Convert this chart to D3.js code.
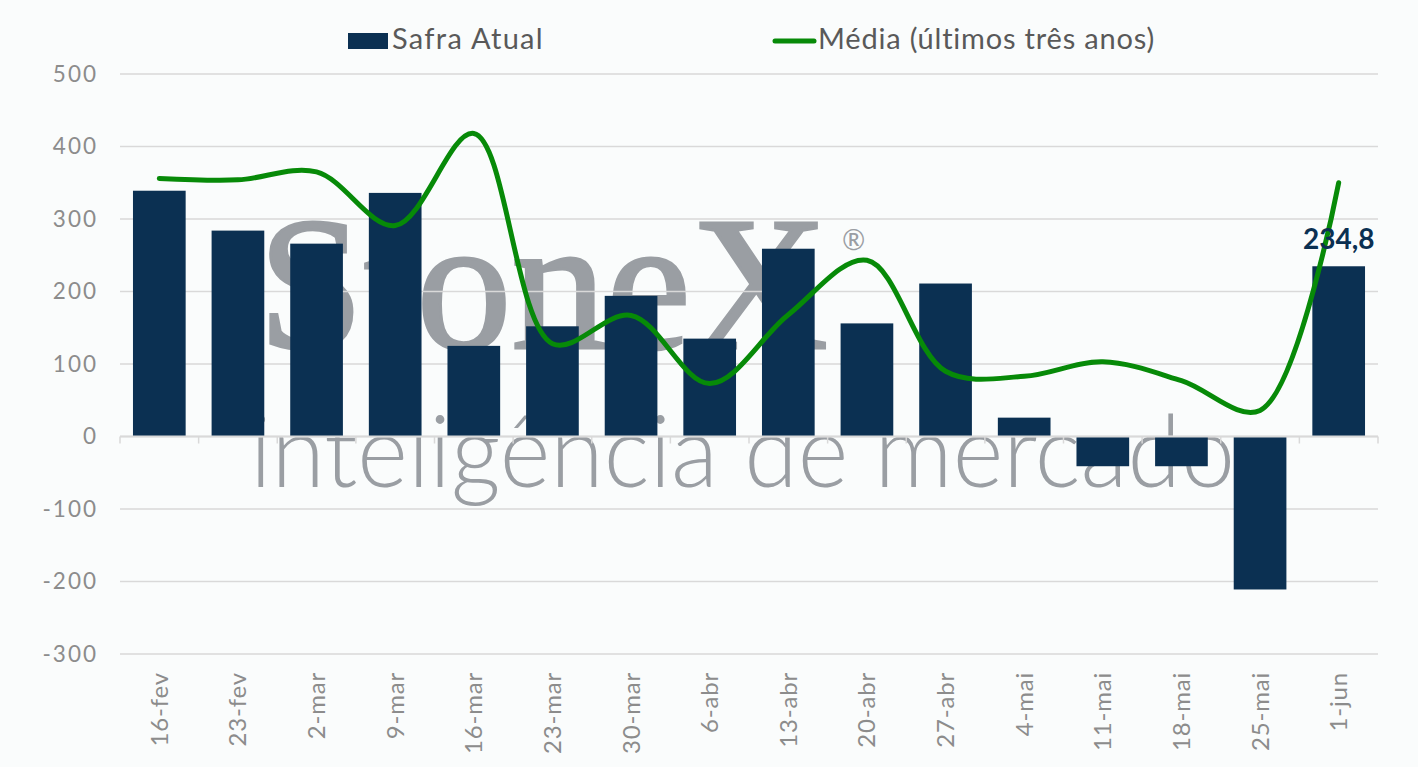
<!DOCTYPE html>
<html><head><meta charset="utf-8">
<script src="https://cdn.jsdelivr.net/npm/d3@7"></script>
<style>
html,body{margin:0;padding:0;background:#fafcfc;}
svg{display:block;font-family:Lato,"Open Sans",sans-serif;}
</style></head>
<body>
<svg id="chart" width="1418" height="767"></svg>
<script>
const categories = ["16-fev","23-fev","2-mar","9-mar","16-mar","23-mar","30-mar","6-abr","13-abr","20-abr","27-abr","4-mai","11-mai","18-mai","25-mai","1-jun"];
const safraAtual = [339,284,266,336,125,152,194,135,259,156,211,26,-41,-41,-211,234.8];
const media = [356,354,365,291,418,128,167,73,168,243,90,83,103,77,36,350];
const yTicks = [-300,-200,-100,0,100,200,300,400,500];
const seriesNames = ["Safra Atual","Média (últimos três anos)"];

const svg = d3.select("#chart");
const W = 1418, H = 767;
svg.append("rect").attr("width",W).attr("height",H).attr("fill","#fafcfc");

const x = d3.scaleBand().domain(categories).range([120,1378]).paddingInner(0.33).paddingOuter(0.165);
const y = d3.scaleLinear().domain([-300,500]).range([654,74]);

// watermark
const wm = svg.append("g").attr("fill","#9a9ea3");
wm.append("text").attr("x",258).attr("y",348)
  .attr("font-family","'Liberation Serif','DejaVu Serif',serif")
  .attr("font-size",190)
  .attr("stroke","#9a9ea3").attr("stroke-width",3)
  .text("StoneX");
wm.append("text").attr("x",842).attr("y",250)
  .attr("font-family","Lato,sans-serif").attr("font-size",28).text("®");
wm.append("text").attr("x",250).attr("y",487)
  .attr("font-family","Lato,'Open Sans',sans-serif").attr("font-weight",300)
  .attr("font-size",100).attr("textLength",985).attr("lengthAdjust","spacingAndGlyphs")
  .text("inteligência de mercado");

// gridlines
svg.append("g").selectAll("line").data(yTicks).join("line")
  .attr("x1",120).attr("x2",1378)
  .attr("y1",d=>y(d)).attr("y2",d=>y(d))
  .attr("stroke","#d9d9d9").attr("stroke-width",1.5);

// y axis labels
const yAxis = d3.axisLeft(y).tickValues(yTicks).tickSize(0).tickPadding(0).tickFormat(d=>String(d));
const gy = svg.append("g").attr("transform","translate(98,0)").call(yAxis);
gy.select(".domain").remove();
gy.selectAll("text").attr("font-size",22.5).attr("fill","#8c8c8c").attr("letter-spacing",2)
  .attr("font-family","Lato,'Open Sans',sans-serif");

// bars
svg.append("g").selectAll("rect").data(categories).join("rect")
  .attr("x",d=>x(d))
  .attr("width",x.bandwidth())
  .attr("y",(d,i)=>y(Math.max(0,safraAtual[i])))
  .attr("height",(d,i)=>Math.abs(y(safraAtual[i])-y(0)))
  .attr("fill","#0b3052");

// x axis at zero
const gx = svg.append("g");
gx.append("line").attr("x1",120).attr("x2",1378).attr("y1",y(0)).attr("y2",y(0))
  .attr("stroke","#d9d9d9").attr("stroke-width",2);
gx.selectAll("line.tk").data(d3.range(categories.length+1)).join("line").attr("class","tk")
  .attr("x1",i=>120+i*x.step()).attr("x2",i=>120+i*x.step())
  .attr("y1",y(0)).attr("y2",y(0)+7)
  .attr("stroke","#d9d9d9").attr("stroke-width",1.5);
gx.selectAll("text").data(categories).join("text")
  .attr("transform",d=>`translate(${x(d)+x.bandwidth()/2+8.5},672) rotate(-90)`)
  .attr("text-anchor","end")
  .attr("font-size",24).attr("fill","#8c8c8c").attr("letter-spacing",0.8)
  .attr("font-family","Lato,'Open Sans',sans-serif")
  .text(d=>d);

// line
const line = d3.line()
  .x((d,i)=>x(categories[i])+x.bandwidth()/2)
  .y(d=>y(d))
  .curve(d3.curveCatmullRom.alpha(0.5));
svg.append("path").datum(media).attr("d",line)
  .attr("fill","none").attr("stroke","#078a08").attr("stroke-width",5)
  .attr("stroke-linecap","round").attr("stroke-linejoin","round");

// data label
const last = categories.length-1;
svg.append("text")
  .attr("x",x(categories[last])+x.bandwidth()/2)
  .attr("y",y(safraAtual[last])-17)
  .attr("text-anchor","middle")
  .attr("font-size",28).attr("font-weight",700).attr("fill","#0b3052")
  .attr("font-family","Lato,'Open Sans',sans-serif")
  .text(d3.format(".1f")(safraAtual[last]).replace(".",","));

// legend
const lg = svg.append("g").attr("font-family","Lato,'Open Sans',sans-serif").attr("font-size",29).attr("fill","#595959");
lg.append("rect").attr("x",348).attr("y",33).attr("width",40).attr("height",16).attr("fill","#0b3052");
lg.append("text").attr("x",392).attr("y",49).attr("letter-spacing",1.3).text(seriesNames[0]);
lg.append("line").attr("x1",775).attr("x2",814).attr("y1",41).attr("y2",41)
  .attr("stroke","#078a08").attr("stroke-width",5).attr("stroke-linecap","round");
lg.append("text").attr("x",818).attr("y",49).attr("letter-spacing",0.8).text(seriesNames[1]);
</script>
</body></html>
